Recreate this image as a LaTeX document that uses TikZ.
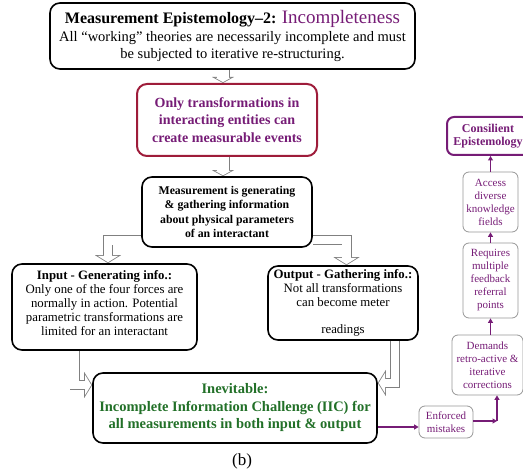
\documentclass[tikz,border=0pt]{standalone}
\usepackage{fontspec}
\setmainfont{Liberation Serif}
\usetikzlibrary{arrows.meta,backgrounds}
\definecolor{purp}{RGB}{118,28,118}
\definecolor{wine}{RGB}{158,28,58}
\definecolor{leaf}{RGB}{34,112,40}
\definecolor{agray}{RGB}{128,128,128}
\definecolor{lgray}{RGB}{150,150,150}

\begin{document}
\begin{tikzpicture}[x=1pt,y=-1pt,
    box/.style={draw, line width=1.6pt, rounded corners=10pt, align=center, inner sep=0pt},
    side/.style={draw=lgray, line width=0.8pt, rounded corners=6pt, align=center, inner sep=0pt,
        text=purp, font=\fontsize{11}{13}\selectfont},
    hollow/.style={draw=agray, line width=10pt, -{Triangle[length=8pt,width=26pt,line width=0pt]},
        postaction={draw=white, line width=8.4pt, shorten >=0.94pt,
        -{Triangle[length=6.26pt,width=20.3pt,line width=0pt]}}},
    thinhollow/.style={draw=agray, line width=13pt, -{Triangle[length=6pt,width=22pt,line width=0pt]},
        postaction={draw=white, line width=11.4pt, shorten >=0.91pt,
        -{Triangle[length=4.3pt,width=15.7pt,line width=0pt]}}},
    parrow/.style={draw=purp, line width=1.5pt, -{Triangle[length=4.5pt,width=5pt]}}
]
\useasboundingbox (0,0) rectangle (523,473);

% main column
\node[box, minimum width=365pt, minimum height=66pt, font=\fontsize{14.5}{17.5}\selectfont] (top) at (232.5,36)
    {\fontsize{16}{17.5}\selectfont\textbf{Measurement Epistemology--2:} {\color{purp}\fontsize{19}{17.5}\selectfont Incompleteness}\\
     All ``working'' theories are necessarily incomplete and must\\
     be subjected to iterative re-structuring.};
\node[box, draw=wine, line width=2pt, minimum width=180pt, minimum height=72pt, text=purp,
    font=\fontsize{14}{17.5}\selectfont\bfseries] (only) at (227,120)
    {Only transformations in\\ interacting entities can\\ create measurable events};
\node[box, minimum width=170pt, minimum height=70pt, font=\fontsize{11.8}{14.3}\selectfont\bfseries] (meas) at (227,212)
    {Measurement is generating\\ \& gathering information\\ about physical parameters\\ of an interactant};
\node[box, minimum width=185pt, minimum height=86pt, font=\fontsize{12.8}{14}\selectfont] (input) at (104.5,307)
    {\textbf{Input - Generating info.:}\\ Only one of the four forces are\\ normally in action. Potential\\
     parametric transformations are\\ limited for an interactant\\[-5pt]\mbox{}};
\node[box, minimum width=150pt, minimum height=74pt, font=\fontsize{12.8}{14}\selectfont] (output) at (343,303)
    {\textbf{Output - Gathering info.:}\\ Not all transformations\\ can become meter\\[13pt] readings};
\node[box, minimum width=284pt, minimum height=70pt, text=leaf, font=\fontsize{14.5}{17.5}\selectfont\bfseries] (inev) at (235,408)
    {Inevitable:\\ Incomplete Information Challenge (IIC) for\\ all measurements in both input \& output};
\node[font=\fontsize{17}{19}\selectfont] (cap) at (242,461) {(b)};

% right column
\node[box, draw=purp, line width=2pt, rounded corners=7pt, minimum width=82pt, minimum height=38pt, text=purp,
    font=\fontsize{12}{13}\selectfont\bfseries] (cons) at (488,136) {Consilient\\ Epistemology};
\node[side, minimum width=55pt, minimum height=60pt] (access) at (490.5,202) {Access\\ diverse\\ knowledge\\ fields};
\node[side, minimum width=55pt, minimum height=75pt] (req) at (490.5,280.5) {Requires\\ multiple\\ feedback\\ referral\\ points};
\node[side, minimum width=71pt, minimum height=60pt] (dem) at (487.5,365) {Demands\\ retro-active \&\\ iterative\\ corrections};
\node[side, minimum width=54pt, minimum height=32pt] (enf) at (446,422) {Enforced\\ mistakes};
\coordinate (feed) at ([yshift=-19pt]inev.east);
\coordinate (bend) at (497,421);

\begin{scope}[on background layer]
\draw[thinhollow] ([xshift=-4pt]only.north |- top.south) -- ([xshift=-4pt]only.north);
\draw[thinhollow] ([xshift=-4pt]only.south) -- ([xshift=-4pt]meas.north);
\draw[hollow] ([yshift=-28.5pt]meas.west) -| ([xshift=3.5pt]input.north);
\draw[hollow] ([yshift=-28pt]meas.east) -| ([xshift=3.5pt]output.north);
\draw[hollow] ([xshift=-30pt]input.south) |- ([yshift=23pt]inev.west);
\draw[hollow] ([xshift=52pt]output.south) |- ([yshift=25pt]inev.east);
\end{scope}

\draw[parrow] (feed) -- (enf.west |- feed);
\draw[parrow] (enf.east |- bend) -- (bend);
\draw[parrow] (bend) -- (bend |- dem.south);
\draw[parrow] (req.south |- dem.north) -- (req.south);
\draw[parrow] (req.north) -- (access.south);
\draw[parrow] (access.north) -- (access.north |- cons.south);
\end{tikzpicture}
\end{document}
